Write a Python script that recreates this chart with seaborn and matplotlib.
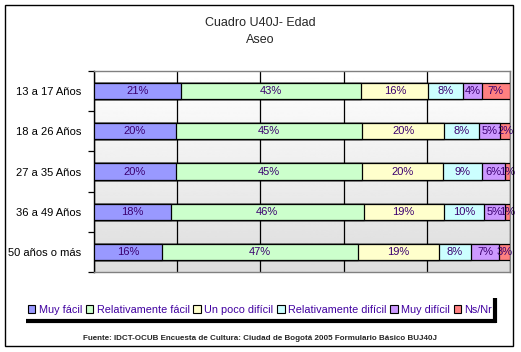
import numpy as np
import pandas as pd
import matplotlib
matplotlib.use("Agg")
import matplotlib.pyplot as plt
from matplotlib.patches import Rectangle
from matplotlib.lines import Line2D
import seaborn as sns

sns.set_theme(style="white")
plt.rcParams['font.family'] = ['Liberation Sans', 'DejaVu Sans']

categories = ["13 a 17 Años", "18 a 26 Años", "27 a 35 Años", "36 a 49 Años", "50 años o más"]
series = ["Muy fácil", "Relativamente fácil", "Un poco difícil",
          "Relativamente difícil", "Muy difícil", "Ns/Nr"]
muy_facil = [20.9, 19.6, 19.6, 18.4, 16.3]
rel_facil = [43.4, 44.9, 44.8, 46.4, 47.2]
poco_dificil = [16.1, 19.6, 19.6, 19.3, 19.4]
rel_dificil = [8.4, 8.4, 9.2, 9.7, 7.7]
muy_dificil = [4.4, 5.2, 5.6, 5.0, 6.8]
ns_nr = [6.8, 2.3, 1.2, 1.2, 2.6]
colors = ["#9999FF", "#CCFFCC", "#FFFFCC", "#CCFFFF", "#CC99FF", "#FF8080"]

values = [muy_facil, rel_facil, poco_dificil, rel_dificil, muy_dificil, ns_nr]
df = pd.DataFrame({s: v for s, v in zip(series, values)}, index=categories)
cum = df.cumsum(axis=1)

fig = plt.figure(figsize=(5.21, 3.52), dpi=100)
ax = fig.add_axes([94/521, 1-272/352, (510-94)/521, (272-71)/352])

# gradient background
grad = np.linspace(1.0, 0.865, 256).reshape(-1, 1)
ax.imshow(grad, cmap="gray", vmin=0, vmax=1, aspect="auto",
          extent=[0, 1, 0, 1], transform=ax.transAxes, zorder=0)

# stacked bars via overlapping cumulative seaborn bars
for i in range(len(series) - 1, -1, -1):
    s = series[i]
    d = pd.DataFrame({"cat": categories, "val": cum[s].values})
    sns.barplot(data=d, x="val", y="cat", orient="h", color=colors[i],
                saturation=1, width=0.4, edgecolor="black", linewidth=0.9,
                ax=ax, zorder=3)

# labels
for r, c in enumerate(categories):
    left = 0
    for s in series:
        v = df.loc[c, s]
        ax.text(left + v / 2, r, f"{int(round(v))}%", ha="center", va="center",
                fontsize=8, color="#3B0070", zorder=5)
        left += v

ax.set_xlim(0, 100)
ax.set_ylim(4.5, -0.5)
ax.set_xlabel("")
ax.set_ylabel("")
ax.set_xticks([0, 20, 40, 60, 80, 100])
ax.set_xticklabels([])
ax.tick_params(axis="x", length=0)
ax.xaxis.grid(True, color="black", linewidth=0.9, zorder=1)
ax.set_axisbelow(True)
ax.set_yticks(range(len(categories)))
ax.set_yticklabels(categories, fontsize=8, color="black")
ax.set_yticks(np.arange(-0.5, 5, 1), minor=True)
ax.tick_params(axis="y", which="major", length=0, pad=9)
ax.tick_params(axis="y", which="minor", length=4, width=0.9, color="black", left=True)
for sp in ["top", "right", "bottom"]:
    ax.spines[sp].set_color("#808080")
    ax.spines[sp].set_linewidth(1)
ax.spines["left"].set_color("black")
ax.spines["left"].set_linewidth(1)

# title
fig.text(260/521, 1-23/352, "Cuadro U40J- Edad", ha="center", va="center", fontsize=9)
fig.text(260/521, 1-40/352, "Aseo", ha="center", va="center", fontsize=9)

# legend
handles = [Rectangle((0, 0), 1, 1, facecolor=col, edgecolor="black", linewidth=0.8)
           for col in colors]
leg = fig.legend(handles, series, loc="center", bbox_to_anchor=(260/521, 1-310/352),
                 ncol=6, frameon=False, fontsize=7.8, handlelength=0.7, handleheight=0.7,
                 handletextpad=0.3, columnspacing=0.35, labelcolor="#4000A0",
                 borderpad=0, borderaxespad=0)
# legend shadow lines
fig.add_artist(Line2D([26/521, 496/521], [1-321/352, 1-321/352], color="black",
                      linewidth=3, solid_capstyle="butt", transform=fig.transFigure))
fig.add_artist(Line2D([494.5/521, 494.5/521], [1-298/352, 1-322.5/352], color="black",
                      linewidth=3, solid_capstyle="butt", transform=fig.transFigure))

# footer
fig.text(260/521, 1-338/352,
         "Fuente: IDCT-OCUB Encuesta de Cultura: Ciudad de Bogotá 2005 Formulario Básico BUJ40J",
         ha="center", va="center", fontsize=5.8, fontweight="bold")

# outer border
fig.add_artist(Rectangle((5/521, 1-346/352), (513-5)/521, (346-5)/352, fill=False,
                         edgecolor="black", linewidth=1, transform=fig.transFigure))

fig.savefig("out.png", dpi=100)
